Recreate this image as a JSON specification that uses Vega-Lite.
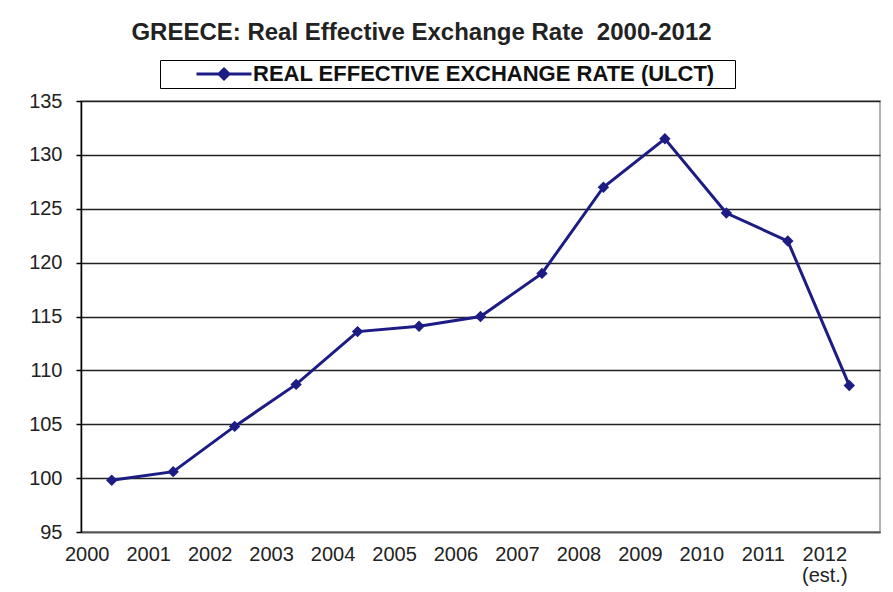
{
  "$schema": "https://vega.github.io/schema/vega-lite/v6.json",
  "width": 799,
  "height": 431,
  "autosize": {"type": "none"},
  "padding": {"left": 81, "top": 101, "right": 13, "bottom": 60},
  "background": "white",
  "title": {
    "text": "GREECE: Real Effective Exchange Rate\u00a0 2000-2012",
    "font": "Liberation Sans",
    "fontSize": 24,
    "fontWeight": "bold",
    "color": "#222",
    "anchor": "middle",
    "dx": -59,
    "offset": 15
  },
  "data": {
    "values": [
      {"year": "2000", "series": "REAL EFFECTIVE EXCHANGE RATE (ULCT)", "value": 99.8},
      {"year": "2001", "series": "REAL EFFECTIVE EXCHANGE RATE (ULCT)", "value": 100.6},
      {"year": "2002", "series": "REAL EFFECTIVE EXCHANGE RATE (ULCT)", "value": 104.8},
      {"year": "2003", "series": "REAL EFFECTIVE EXCHANGE RATE (ULCT)", "value": 108.7},
      {"year": "2004", "series": "REAL EFFECTIVE EXCHANGE RATE (ULCT)", "value": 113.6},
      {"year": "2005", "series": "REAL EFFECTIVE EXCHANGE RATE (ULCT)", "value": 114.1},
      {"year": "2006", "series": "REAL EFFECTIVE EXCHANGE RATE (ULCT)", "value": 115.0},
      {"year": "2007", "series": "REAL EFFECTIVE EXCHANGE RATE (ULCT)", "value": 119.0},
      {"year": "2008", "series": "REAL EFFECTIVE EXCHANGE RATE (ULCT)", "value": 127.0},
      {"year": "2009", "series": "REAL EFFECTIVE EXCHANGE RATE (ULCT)", "value": 131.5},
      {"year": "2010", "series": "REAL EFFECTIVE EXCHANGE RATE (ULCT)", "value": 124.6},
      {"year": "2011", "series": "REAL EFFECTIVE EXCHANGE RATE (ULCT)", "value": 122.0},
      {"year": "2012", "series": "REAL EFFECTIVE EXCHANGE RATE (ULCT)", "value": 108.6}
    ]
  },
  "encoding": {
    "x": {
      "field": "year",
      "type": "ordinal",
      "scale": {"type": "point", "padding": 0.5},
      "axis": {
        "title": null,
        "grid": false,
        "ticks": false,
        "domainColor": "#555",
        "domainWidth": 1.5,
        "labelAngle": 0,
        "labelOffset": -25,
        "labelPadding": 12,
        "labelOverlap": false,
        "labelFont": "Liberation Sans",
        "labelFontSize": 20,
        "labelColor": "#222",
        "labelLineHeight": 21,
        "labelExpr": "datum.value == '2012' ? ['2012', '  (est.)'] : datum.label"
      }
    },
    "y": {
      "field": "value",
      "type": "quantitative",
      "scale": {"domain": [95, 135], "nice": false, "zero": false},
      "axis": {
        "title": null,
        "values": [95, 100, 105, 110, 115, 120, 125, 130, 135],
        "tickSize": 5,
        "tickColor": "#000",
        "tickWidth": 1.5,
        "domainColor": "#000",
        "domainWidth": 1.5,
        "gridColor": "#222",
        "gridWidth": 1.5,
        "labelFont": "Liberation Sans",
        "labelFontSize": 20,
        "labelColor": "#222",
        "labelPadding": 14
      }
    },
    "color": {
      "field": "series",
      "type": "nominal",
      "scale": {"range": ["#1c1c84"]},
      "legend": {
        "orient": "none",
        "legendX": 79,
        "legendY": -41,
        "title": "\u00a0",
        "titleOrient": "right",
        "titlePadding": 17,
        "titleFontSize": 10,
        "strokeColor": "#000",
        "padding": 3,
        "symbolType": "M-5.5,0L5.5,0M0,-1L1,0L0,1L-1,0Z",
        "symbolSize": 100,
        "symbolStrokeWidth": 3,
        "symbolFillColor": "#1c1c84",
        "symbolStrokeColor": "#1c1c84",
        "symbolOffset": 50,
        "labelOffset": 18,
        "labelFont": "Liberation Sans",
        "labelFontSize": 22,
        "labelFontWeight": "bold",
        "labelColor": "#111",
        "labelLimit": 0
      }
    }
  },
  "layer": [
    {"mark": {"type": "line", "strokeWidth": 3}},
    {"mark": {"type": "point", "shape": "diamond", "filled": true, "size": 130, "opacity": 1}}
  ],
  "config": {
    "view": {"stroke": "#999", "strokeWidth": 1.5}
  }
}
